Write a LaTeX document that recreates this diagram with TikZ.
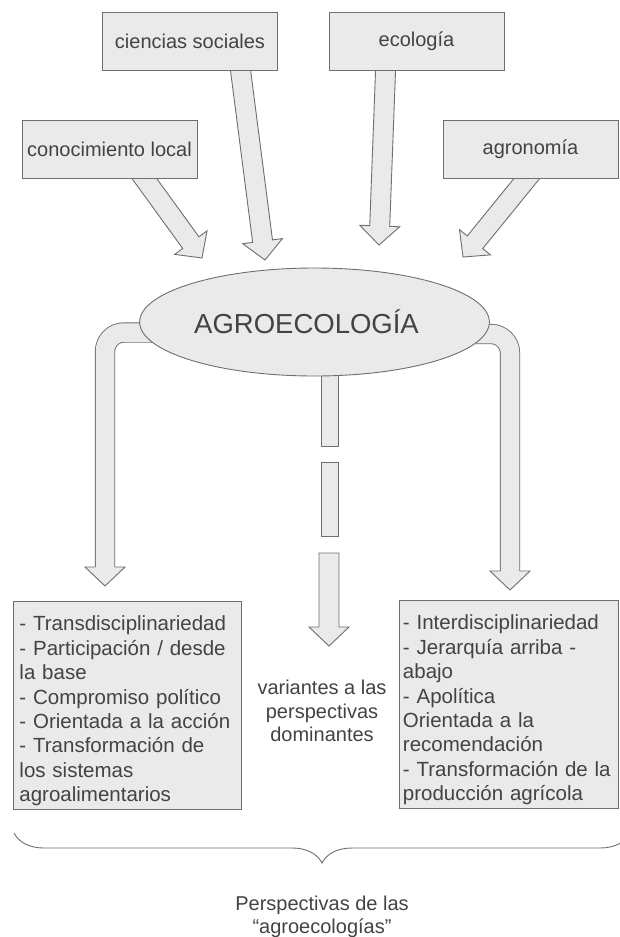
\documentclass[tikz,border=0pt]{standalone}
\usepackage{fontspec}
\setmainfont{Liberation Sans}
\usetikzlibrary{shapes.geometric,calc,backgrounds,decorations.pathreplacing}
\definecolor{boxfill}{HTML}{EAEAEA}
\definecolor{boxline}{HTML}{6F6F6F}
\definecolor{boxtext}{HTML}{434343}

\begin{document}
\begin{tikzpicture}[
  x=1pt, y=-1pt,
  every node/.style={text=boxtext, font=\fontsize{20}{23.5}\selectfont},
  field/.style={draw=boxline, fill=boxfill, line width=0.9pt, minimum width=175pt, minimum height=58pt, inner sep=0pt},
  core/.style={ellipse, draw=boxline, fill=boxfill, line width=0.9pt, minimum width=327pt, minimum height=108pt, font=\fontsize{27.5}{33}\selectfont},
  trait/.style={draw=boxline, fill=boxfill, line width=0.9pt, anchor=north west, inner xsep=6pt, inner ysep=0pt, align=left, minimum height=208pt, font=\fontsize{20.5}{24.4}\selectfont},
  fat/.style={draw=boxline, fill=boxfill, line width=0.9pt, to path={
    ($(\tikztostart)!10pt!90:(\tikztotarget)$)
    -- ($(\tikztotarget)!19pt!(\tikztostart)!10pt!-90:(\tikztostart)$)
    -- ($(\tikztotarget)!19pt!(\tikztostart)!20pt!-90:(\tikztostart)$)
    -- (\tikztotarget)
    -- ($(\tikztotarget)!19pt!(\tikztostart)!20pt!90:(\tikztostart)$)
    -- ($(\tikztotarget)!19pt!(\tikztostart)!10pt!90:(\tikztostart)$)
    -- ($(\tikztostart)!10pt!-90:(\tikztotarget)$) -- cycle}},
  bent/.style={draw=boxline, line width=0.9pt, double=boxfill, double distance=18.5pt, rounded corners=19pt},
  bar/.style={draw=boxline, fill=boxfill, line width=0.9pt},
  downtip/.pic={\filldraw[bar] (-9.6,0) -- (-20,0) -- (0,19) -- (20,0) -- (9.6,0);}
]
\useasboundingbox (0,0) rectangle (619,937);
\begin{pgfonlayer}{background}
\fill[white] (0,0) rectangle (619,937);
\end{pgfonlayer}

\node[field] (ciencias) at (190,41) {ciencias sociales};
\node[field] (ecologia) at (416.5,41) {ecología};
\node[field] (local) at (109.5,149) {conocimiento local};
\node[field] (agronomia) at (530.5,149) {agronomía};
\node[core] (agro) at (314.5,322) {AGROECOLOGÍA\hspace*{16pt}};

\coordinate (in1) at (202,258);
\coordinate (in2) at (265,260);
\coordinate (in3) at (379,245);
\coordinate (in4) at (463,257);

\node[trait, text width=216pt] (trans) at (13,601) {\rule{0pt}{26pt}- Transdisciplinariedad\\- Participación / desde\\la base\\- Compromiso político\\- Orientada a la acción\\- Transformación de\\los sistemas\\agroalimentarios};
\node[trait, inner xsep=3.5pt, text width=212pt] (inter) at (399,600) {\rule{0pt}{26pt}- Interdisciplinariedad\\- Jerarquía arriba -\\abajo\\- Apolítica\\Orientada a la\\recomendación\\- Transformación de la\\producción agrícola};
\node[align=center] (variants) at (322,711) {variantes a las\\perspectivas\\dominantes};
\node[align=center, font=\fontsize{20}{23}\selectfont] (persp) at (322,916.5) {Perspectivas de las\\“agroecologías”};

\begin{pgfonlayer}{background}
\draw[fat] ($(local.south)+(27.5,-10)$) to (in1);
\draw[fat] ($(ciencias.south)+(49,-12)$) to (in2);
\draw[fat] ($(ecologia.south)+(-30.5,-12)$) to (in3);
\draw[fat] ($(agronomia.south)+(4.5,-10)$) to (in4);
\draw[bent] ($(agro.west)+(25,10.5)$) -| (105,567);
\pic at (105,567) {downtip};
\draw[bent] ($(agro.east)+(-25,12)$) -| (510,571);
\pic at (510,571) {downtip};
\draw[bar] (321,360) rectangle (338,446);
\draw[bar] (321,462) rectangle (338,536);
\draw[fat] (329,553) to (329,646);
\end{pgfonlayer}

\draw[boxline, line width=0.9pt, decorate, decoration={brace, amplitude=30pt}] (630,833) -- (14,833);
\end{tikzpicture}
\end{document}
